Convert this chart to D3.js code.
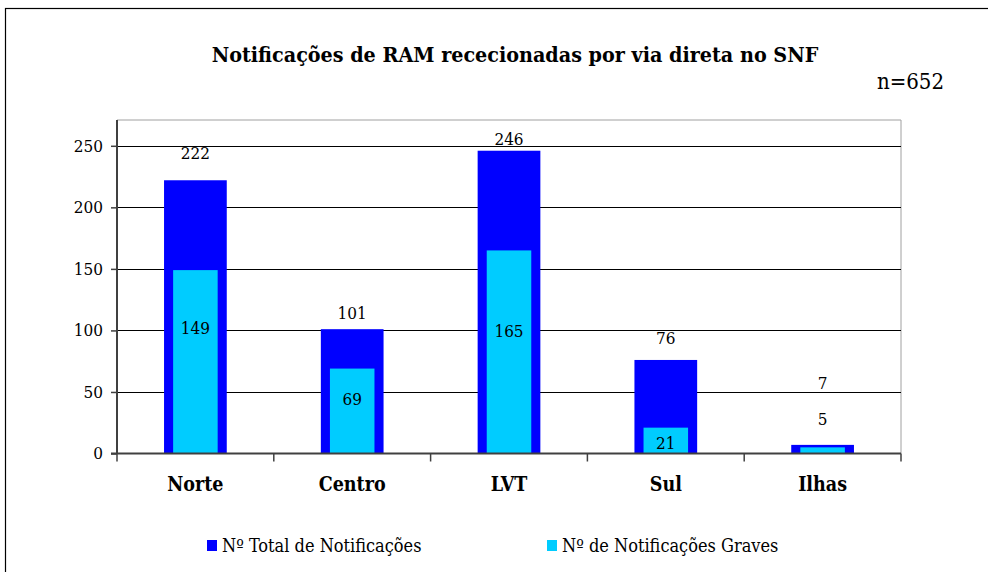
<!DOCTYPE html>
<html><head><meta charset="utf-8">
<script src="https://cdn.jsdelivr.net/npm/d3@7/dist/d3.min.js"></script>
<style>
body{margin:0;background:#fff;}
svg{display:block;font-family:"DejaVu Serif Condensed","DejaVu Serif",serif;}
</style></head>
<body><svg id="c" width="988" height="572"></svg>
<script>
const categories = ["Norte","Centro","LVT","Sul","Ilhas"];
const totalNotif = [222,101,246,76,7];
const gravesNotif = [149,69,165,21,5];
const yTicks = [0,50,100,150,200,250];
// label anchor positions (in data units) as placed in the original
const totalLabelAt = [244,114,255.5,94,57];
const gravesLabelAt = [102,44,99.5,8.5,28];
const seriesNames = ["Nº Total de Notificações","Nº de Notificações Graves"];
const colors = ["#0000FF","#00CCFF"];

const F = "DejaVu Serif Condensed, DejaVu Serif, serif";
const svg = d3.select("#c");
const W=988,H=572;
svg.append("rect").attr("x",5.5).attr("y",8.5).attr("width",W).attr("height",H).attr("fill","#fff").attr("stroke","#000").attr("stroke-width",1.2);

const m={l:117,r:901,t:120,b:453.5};
const x=d3.scaleBand().domain(categories).range([m.l,m.r]);
const y=d3.scaleLinear().domain([0,270]).range([m.b,m.b-(270/250)*(m.b-145.8)]);
svg.append("path").attr("d",`M${m.l},${m.t}H${m.r}V${m.b}`).attr("fill","none").attr("stroke","#a0a0a0").attr("stroke-width",1);

svg.append("g").selectAll("line").data(yTicks.filter(d=>d>0)).join("line")
 .attr("x1",m.l).attr("x2",m.r).attr("y1",d=>Math.round(y(d))+0.5).attr("y2",d=>Math.round(y(d))+0.5)
 .attr("stroke","#000").attr("stroke-width",1);

const bw=x.bandwidth();
svg.append("g").selectAll("rect").data(categories).join("rect")
 .attr("x",(d)=>x(d)+bw/2-bw*0.2).attr("width",bw*0.4)
 .attr("y",(d,i)=>y(totalNotif[i])).attr("height",(d,i)=>y(0)-y(totalNotif[i]))
 .attr("fill",colors[0]);
svg.append("g").selectAll("rect").data(categories).join("rect")
 .attr("x",(d)=>x(d)+bw/2-bw*0.142).attr("width",bw*0.284)
 .attr("y",(d,i)=>y(gravesNotif[i])).attr("height",(d,i)=>y(0)-y(gravesNotif[i]))
 .attr("fill",colors[1]);

const yAxis=d3.axisLeft(y).tickValues(yTicks).tickSize(6).tickPadding(8);
const gy=svg.append("g").attr("transform",`translate(${m.l},0)`).call(yAxis);
gy.select(".domain").attr("d",`M-0,${m.t}V${m.b}`).attr("stroke","#404040").attr("stroke-width",2);
gy.selectAll(".tick line").attr("stroke","#404040").attr("stroke-width",1.5);
gy.selectAll(".tick text").attr("fill","#000").attr("font-family",F).style("font-size","17px");

const xAxis=d3.axisBottom(x).tickSize(0).tickPadding(0);
svg.append("line").attr("x1",m.l-6).attr("x2",m.r).attr("y1",m.b).attr("y2",m.b).attr("stroke","#404040").attr("stroke-width",2);
svg.append("g").selectAll("line").data(d3.range(categories.length+1)).join("line")
 .attr("x1",i=>m.l+i*bw).attr("x2",i=>m.l+i*bw).attr("y1",m.b).attr("y2",m.b+8).attr("stroke","#404040").attr("stroke-width",1.5);
const gx=svg.append("g").attr("transform",`translate(0,${m.b})`).call(xAxis);
gx.select(".domain").remove();
gx.selectAll(".tick text").attr("dy",0).attr("y",37).attr("font-family",F)
 .attr("font-weight","bold").style("font-size","19.5px").attr("fill","#000");

svg.append("g").selectAll("text").data(categories).join("text")
 .attr("x",d=>x(d)+bw/2).attr("y",(d,i)=>y(totalLabelAt[i])+6).attr("text-anchor","middle")
 .attr("font-family",F).style("font-size","17px").text((d,i)=>totalNotif[i]);
svg.append("g").selectAll("text").data(categories).join("text")
 .attr("x",d=>x(d)+bw/2).attr("y",(d,i)=>y(gravesLabelAt[i])+6).attr("text-anchor","middle")
 .attr("font-family",F).style("font-size","17px").text((d,i)=>gravesNotif[i]);

svg.append("text").attr("x",515).attr("y",62).attr("text-anchor","middle")
 .attr("font-family",F).attr("font-weight","bold").style("font-size","21.3px")
 .text("Notificações de RAM rececionadas por via direta no SNF");
svg.append("text").attr("x",944).attr("y",89).attr("text-anchor","end")
 .attr("font-family",F).style("font-size","22px").text("n=652");

const lg=svg.append("g");
const lx=[207,547];
seriesNames.forEach((s,i)=>{
  lg.append("rect").attr("x",lx[i]).attr("y",540).attr("width",10).attr("height",11).attr("fill",colors[i]);
  lg.append("text").attr("x",lx[i]+15).attr("y",552).attr("font-family",F).style("font-size","18px").text(s);
});
</script></body></html>
